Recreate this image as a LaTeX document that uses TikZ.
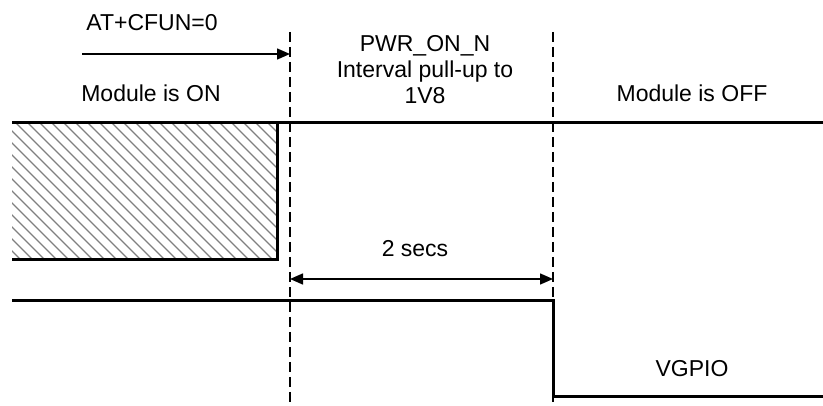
\documentclass[tikz,border=0pt]{standalone}
\usepackage{fontspec}
\setmainfont{Liberation Sans}
\usetikzlibrary{arrows.meta}

\begin{document}
\begin{tikzpicture}[
      x=1pt, y=-1pt,
      signal/.style={draw, line width=3pt, line join=miter},
      guide/.style={draw, line width=2pt, dash pattern=on 10pt off 5pt},
      hatch/.style={draw, gray, line width=1.3pt},
      dim/.style={draw, line width=1.5pt, -{Triangle[length=13pt,width=11pt]}},
      dimboth/.style={dim, {Triangle[length=13pt,width=11pt]}-{Triangle[length=13pt,width=11pt]}},
      every node/.style={font=\fontsize{23}{26}\selectfont, inner sep=0pt, anchor=base}
    ]
    \useasboundingbox (0,0) rectangle (823,406);

    % time marks
    \coordinate (m1t) at (290,32);
    \coordinate (m1b) at (290,406);
    \coordinate (m2t) at (553,32);
    \coordinate (m2b) at (553,406);

    % hatched area (module on)
    \begin{scope}
      \clip (12,123) rectangle (277,260);
      \foreach \i in {-140,-128,...,280}
        \draw[hatch] (\i,123) -- ++(140,140);
    \end{scope}

    % signals
    \draw[signal] (12,123) -- (823,123);
    \draw[signal] (12,260) -- (277,260) -- (277,123);
    \coordinate (vhi) at (12,301);
    \coordinate (vlo) at (823,397);
    \draw[signal] (vhi) -- (vhi -| m2t) -- (vlo -| m2t) -- (vlo);

    \draw[guide] (m1t) -- (m1b);
    \draw[guide] (m2t) -- (m2b);

    % labels
    \node (cmd) at (152,31) {AT+CFUN=0};
    \node (on) at (151,102) {Module is ON};
    \node[align=center] (pull) at (425,104) {PWR\_ON\_N\\Interval pull-up to\\1V8};
    \node (off) at (692,102) {Module is OFF};
    \node (secs) at (415,257) {2 secs};
    \node (vgpio) at (692,377) {VGPIO};

    % arrows
    \coordinate (cmds) at (82,54);
    \draw[dim] (cmds) -- (cmds -| m1t);
    \coordinate (d1) at (290,279);
    \draw[dimboth] (d1) -- (d1 -| m2t);
\end{tikzpicture}
\end{document}
